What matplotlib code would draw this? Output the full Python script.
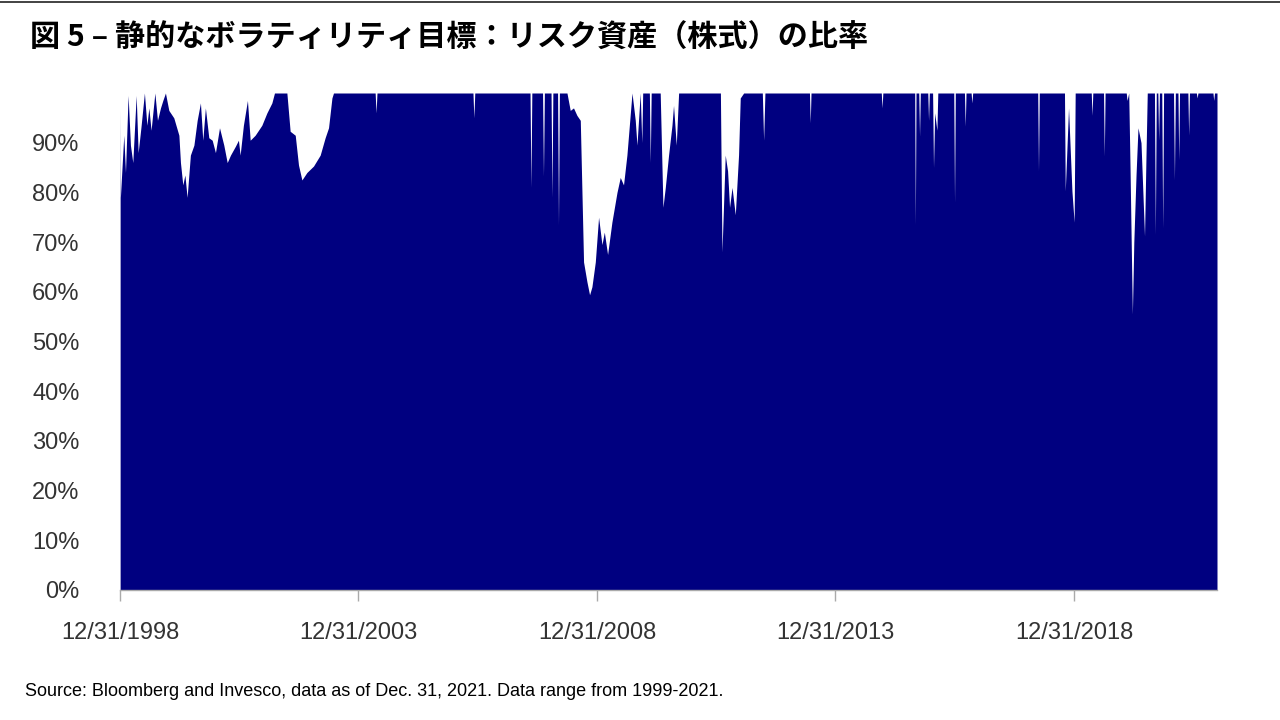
import numpy as np
import pandas as pd
import matplotlib
matplotlib.use("Agg")
import matplotlib.pyplot as plt

# equity weight (%) under a static volatility target
dates = [
    # 1999-2003
    "1999-01-01", "1999-01-03", "1999-01-29", "1999-02-11", "1999-03-03", "1999-03-21",
    "1999-04-08", "1999-05-04", "1999-05-19", "1999-06-09", "1999-07-06", "1999-07-25",
    "1999-08-09", "1999-08-26", "1999-09-24", "1999-10-14", "1999-11-06", "1999-11-24",
    "1999-12-14", "2000-01-09", "2000-02-16", "2000-03-26", "2000-04-07", "2000-04-25",
    "2000-05-11", "2000-05-28", "2000-06-22", "2000-07-19", "2000-08-13", "2000-09-07",
    "2000-09-25", "2000-10-15", "2000-11-10", "2000-12-06", "2000-12-31", "2001-01-31",
    "2001-03-05", "2001-03-31", "2001-04-25", "2001-06-02", "2001-06-25", "2001-07-08",
    "2001-08-02", "2001-09-02", "2001-09-23", "2001-10-31", "2001-12-21", "2002-01-29",
    "2002-03-08", "2002-03-28", "2002-07-01", "2002-07-26", "2002-09-03", "2002-09-28",
    "2002-10-24", "2002-12-01", "2003-01-21", "2003-03-13", "2003-04-20", "2003-05-16",
    "2003-06-11", "2003-06-23",
    # 2004-2006
    "2004-05-07", "2004-05-14", "2004-05-21",
    "2006-05-26", "2006-06-02", "2006-06-09",
    # 2007-2009
    "2007-08-06", "2007-08-13", "2007-08-20",
    "2007-11-10", "2007-11-17", "2007-11-24",
    "2008-01-14", "2008-01-21", "2008-01-28",
    "2008-03-04", "2008-03-11", "2008-03-18",
    "2008-05-15", "2008-06-09", "2008-07-04", "2008-07-30", "2008-08-25", "2008-09-19",
    "2008-10-15", "2008-11-04", "2008-11-22", "2008-12-18", "2009-01-12", "2009-02-07",
    "2009-02-25", "2009-03-22", "2009-04-24", "2009-06-02", "2009-06-27", "2009-07-22",
    "2009-08-17", "2009-09-25", "2009-10-20", "2009-11-02", "2009-11-27",
    "2009-12-09", "2009-12-16",
    # 2010-2012
    "2010-02-05", "2010-02-12", "2010-02-19",
    "2010-04-29", "2010-05-20", "2010-06-07", "2010-07-02", "2010-07-28", "2010-08-09",
    "2010-08-30", "2010-09-17",
    "2011-08-03", "2011-08-15", "2011-09-09", "2011-09-27", "2011-10-12", "2011-10-31",
    "2011-11-25", "2011-12-20", "2012-01-02", "2012-01-28",
    "2012-06-19", "2012-06-29", "2012-07-09",
    # 2013-2021
    "2013-06-15", "2013-06-21", "2013-06-27",
    "2014-12-17", "2014-12-23", "2014-12-29",
    "2015-08-30", "2015-09-04", "2015-09-09",
    "2015-09-30", "2015-10-06", "2015-10-12",
    "2015-12-08", "2015-12-14", "2015-12-20",
    "2016-01-14", "2016-01-21", "2016-01-30", "2016-02-16", "2016-02-23",
    "2016-06-24", "2016-06-30", "2016-07-06",
    "2016-09-14", "2016-09-20", "2016-09-26",
    "2016-11-04", "2016-11-10", "2016-11-16",
    "2018-03-29", "2018-04-04", "2018-04-10",
    "2018-10-20", "2018-10-26", "2018-11-20", "2018-12-16", "2019-01-02", "2019-01-10",
    "2019-05-13", "2019-05-19", "2019-05-25",
    "2019-08-15", "2019-08-21", "2019-08-27",
    "2020-02-05", "2020-02-11", "2020-02-24", "2020-03-05", "2020-03-14", "2020-03-23",
    "2020-04-03", "2020-04-20", "2020-05-05", "2020-05-28", "2020-06-24", "2020-07-05",
    "2020-07-15",
    "2020-09-08", "2020-09-15", "2020-09-22",
    "2020-10-04", "2020-10-10", "2020-10-16",
    "2020-11-03", "2020-11-10", "2020-11-17",
    "2021-02-01", "2021-02-08", "2021-02-15",
    "2021-03-07", "2021-03-13", "2021-03-19",
    "2021-05-22", "2021-05-28", "2021-06-03",
    "2021-07-26", "2021-08-01", "2021-08-07",
    "2021-11-30", "2021-12-06", "2021-12-12",
    "2021-12-31",
]
weight = [
    # 1999-2003
    97, 79, 91.5, 84, 99.5, 89.5,
    86, 99.5, 88, 93, 100, 93.5,
    97, 92.5, 100, 94.5, 97, 98.5,
    100, 96.5, 95, 91.5, 86, 81.5,
    83.5, 79, 87.5, 89.5, 94.5, 98,
    90.5, 97, 91, 90.5, 88, 93,
    89.5, 86, 87.5, 89.3, 90.5, 87.5,
    93.5, 98.5, 90.5, 91.5, 93.5, 96,
    98, 100, 100, 92.3, 91.5, 85.5,
    82.5, 84, 85.3, 87.5, 91, 93,
    99, 100,
    # 2004-2006
    100, 96, 100,
    100, 95, 100,
    # 2007-2009
    100, 81, 100,
    100, 83.3, 100,
    100, 79, 100,
    100, 73.5, 100,
    100, 96.5, 97, 95.5, 94.5, 66,
    62, 59.4, 61, 66, 75, 69.5,
    72, 67.5, 74, 80, 83, 81.5,
    87.5, 100, 94.5, 89.5, 100,
    90, 100,
    # 2010-2012
    100, 86, 100,
    100, 77, 81, 87.5, 93.5, 97.5,
    89.5, 100,
    100, 68, 87.5, 84.3, 77, 81,
    75.5, 87.5, 99, 100,
    100, 90.5, 100,
    # 2013-2021
    100, 94, 100,
    100, 97, 100,
    100, 73.5, 100,
    100, 91.3, 100,
    100, 94.5, 100,
    100, 85, 96, 92.5, 100,
    100, 78, 100,
    100, 93.3, 100,
    100, 98, 100,
    100, 84.3, 100,
    100, 80.3, 97, 80.3, 74, 100,
    100, 95.5, 100,
    100, 87.3, 100,
    100, 98.5, 100, 85, 70, 55.5,
    70, 83.5, 93, 90, 71.2, 87,
    100,
    100, 71.5, 100,
    100, 90.5, 100,
    100, 72.8, 100,
    100, 82.5, 100,
    100, 86.5, 100,
    100, 91.5, 100,
    100, 99, 100,
    100, 98.5, 100,
    100,
]

tick_dates = ["1998-12-31", "2003-12-31", "2008-12-31", "2013-12-31", "2018-12-31"]
tick_labels = ["12/31/1998", "12/31/2003", "12/31/2008", "12/31/2013", "12/31/2018"]
y_ticks = [0, 10, 20, 30, 40, 50, 60, 70, 80, 90]

title = "図 5 – 静的なボラティリティ目標：リスク資産（株式）の比率"
source = "Source: Bloomberg and Invesco, data as of Dec. 31, 2021. Data range from 1999-2021."

plt.rcParams['font.family'] = ['Liberation Sans', 'DejaVu Sans']

fig = plt.figure(figsize=(12.8, 7.2), dpi=100)
ax = fig.add_axes([120 / 1280, 130 / 720, 1097 / 1280, 497 / 720])

x = pd.to_datetime(dates)
ax.fill_between(x, weight, 0, color="#000080", linewidth=0)

ax.set_xlim(pd.Timestamp("1998-12-31"), pd.Timestamp("2021-12-31"))
ax.set_ylim(0, 100)

ax.set_yticks(y_ticks)
ax.set_yticklabels([f"{v}%" for v in y_ticks])
ax.tick_params(axis="y", length=0, pad=29, labelsize=17, labelcolor="#333333")

ax.set_xticks(pd.to_datetime(tick_dates))
ax.set_xticklabels(tick_labels)
ax.tick_params(axis="x", length=8, width=1, color="#aaaaaa", pad=15,
               labelsize=17, labelcolor="#333333")

for side in ["top", "right", "left"]:
    ax.spines[side].set_visible(False)
ax.spines["bottom"].set_color("#aaaaaa")
ax.spines["bottom"].set_linewidth(1)

# thin rule across the very top
fig.add_artist(plt.Line2D([0, 1], [1 - 1.5 / 720, 1 - 1.5 / 720], color="#222222", linewidth=1.2))

fig.text(30 / 1280, 1 - 38 / 720, title, fontsize=21.7, fontweight="bold",
         family=["Noto Sans CJK JP", "DejaVu Sans"], va="center", ha="left", color="black")
fig.text(25 / 1280, 1 - 692 / 720, source, fontsize=13, va="center", ha="left", color="black")

fig.savefig("out.png", dpi=100)
